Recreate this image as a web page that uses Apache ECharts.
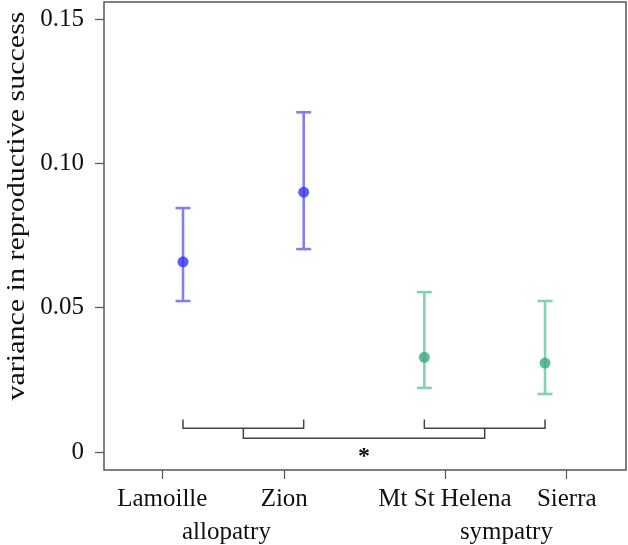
<!DOCTYPE html>
<html>
<head>
<meta charset="utf-8">
<script src="https://cdn.jsdelivr.net/npm/echarts@6/dist/echarts.min.js"></script>
<style>
html,body{margin:0;padding:0;background:#fff;}
#chart{width:628px;height:545px;}
</style>
</head>
<body>
<div id="chart"></div>
<script>
// ---- data ----
const sites = ['Lamoille', 'Zion', 'Mt St Helena', 'Sierra'];
const sitePos = [1, 2, 3, 4];
const siteGroup = [0, 0, 1, 1];
const means = [0.0659, 0.0900, 0.0328, 0.0308];
const upper = [0.0845, 0.1177, 0.0554, 0.0523];
const lower = [0.0523, 0.0703, 0.0222, 0.0201];
const siteTickPos = [0.828, 1.839, 3.171, 4.18];
const groups = ['allopatry', 'sympatry'];
const groupLabelPos = [1.36, 3.68];
const yTicks = [0, 0.05, 0.10, 0.15];
const yTickLabels = ['0', '0.05', '0.10', '0.15'];
const bracketTipY = 0.0113;
const bracketBarY = 0.0082;
const bracketJoinY = 0.0048;
const sigLabel = '*';
const sigLabelY = -0.0015;

// ---- styles ----
const pointColors = ['#3434f2', '#3aa97c'];
const barColors = ['#8080f2', '#86d0b3'];
const ink = '#444';
const fontFam = '"Liberation Serif", "DejaVu Serif", serif';

const chart = echarts.init(document.getElementById('chart'));

const errData = sitePos.map((x, i) => [x, lower[i], upper[i], siteGroup[i]]);
const ptData = sitePos.map((x, i) => ({ value: [x, means[i]], itemStyle: { color: pointColors[siteGroup[i]] } }));

// brackets from group membership
const groupIdx = [0, 1];
const bracketData = groupIdx.map(g => {
  const xs = sitePos.filter((_, i) => siteGroup[i] === g);
  return [Math.min(...xs), Math.max(...xs)];
});

function near(a, b) { return Math.abs(a - b) < 1e-6; }

const option = {
  animation: false,
  backgroundColor: '#fff',
  grid: { left: 104, right: 2, top: 2, bottom: 75, show: true, borderColor: '#555', borderWidth: 1.5, backgroundColor: 'transparent' },
  xAxis: [
    {
      type: 'value', min: 0.3453, max: 4.671, position: 'bottom',
      axisLine: { show: false, onZero: false },
      splitLine: { show: false },
      axisTick: { show: true, length: 9, inside: false, customValues: siteTickPos, lineStyle: { color: '#555', width: 1.2 } },
      axisLabel: {
        customValues: siteTickPos, margin: 17,
        fontFamily: fontFam, fontSize: 25, color: '#111',
        formatter: v => { const i = siteTickPos.findIndex(t => near(t, v)); return i >= 0 ? sites[i] : ''; }
      }
    },
    {
      type: 'value', min: 0.3453, max: 4.671, position: 'bottom',
      axisLine: { show: false, onZero: false }, axisTick: { show: false }, splitLine: { show: false },
      axisLabel: {
        customValues: groupLabelPos, margin: 50,
        fontFamily: fontFam, fontSize: 25, color: '#111',
        formatter: v => { const i = groupLabelPos.findIndex(t => near(t, v)); return i >= 0 ? groups[i] : ''; }
      }
    }
  ],
  yAxis: {
    type: 'value', min: -0.006235, max: 0.15589,
    axisLine: { show: false, onZero: false },
    splitLine: { show: false },
    axisTick: { show: true, length: 9, customValues: yTicks, lineStyle: { color: '#555', width: 1.2 } },
    axisLabel: {
      customValues: yTicks, margin: 20,
      fontFamily: fontFam, fontSize: 25, color: '#111',
      formatter: v => { const i = yTicks.findIndex(t => near(t, v)); return i >= 0 ? yTickLabels[i] : ''; }
    }
  },
  graphic: [{
    type: 'text', x: 17, y: 206, rotation: Math.PI / 2, scaleX: 1.2,
    style: { text: 'variance in reproductive success', fontFamily: fontFam, fontSize: 25, fill: '#111', align: 'center', verticalAlign: 'middle' }
  }],
  series: [
    {
      type: 'custom', xAxisIndex: 0,
      data: bracketData,
      renderItem: (params, api) => {
        const x0 = api.value(0), x1 = api.value(1);
        const a = api.coord([x0, bracketTipY]);
        const b = api.coord([x0, bracketBarY]);
        const c = api.coord([x1, bracketBarY]);
        const d = api.coord([x1, bracketTipY]);
        return { type: 'polyline', shape: { points: [a, b, c, d] }, style: { stroke: ink, lineWidth: 1.5, fill: null } };
      },
      silent: true, z: 1
    },
    {
      type: 'custom', xAxisIndex: 0,
      data: [[
        (bracketData[0][0] + bracketData[0][1]) / 2,
        (bracketData[1][0] + bracketData[1][1]) / 2
      ]],
      renderItem: (params, api) => {
        const m0 = api.value(0), m1 = api.value(1);
        const a = api.coord([m0, bracketBarY]);
        const b = api.coord([m0, bracketJoinY]);
        const c = api.coord([m1, bracketJoinY]);
        const d = api.coord([m1, bracketBarY]);
        const t = api.coord([(m0 + m1) / 2, sigLabelY]);
        return {
          type: 'group', children: [
            { type: 'polyline', shape: { points: [a, b, c, d] }, style: { stroke: ink, lineWidth: 1.5, fill: null } },
            { type: 'text', x: t[0], y: t[1], style: { text: sigLabel, fontFamily: fontFam, fontSize: 24, fontWeight: 'bold', fill: '#111', align: 'center', verticalAlign: 'middle' } }
          ]
        };
      },
      silent: true, z: 1
    },
    {
      type: 'custom', xAxisIndex: 0,
      data: errData,
      renderItem: (params, api) => {
        const x = api.value(0);
        const lo = api.coord([x, api.value(1)]);
        const hi = api.coord([x, api.value(2)]);
        const col = barColors[api.value(3)];
        const hw = 7.5;
        const st = { stroke: col, lineWidth: 2.6 };
        return {
          type: 'group', children: [
            { type: 'line', shape: { x1: lo[0], y1: lo[1], x2: hi[0], y2: hi[1] }, style: st },
            { type: 'line', shape: { x1: lo[0] - hw, y1: lo[1], x2: lo[0] + hw, y2: lo[1] }, style: st },
            { type: 'line', shape: { x1: hi[0] - hw, y1: hi[1], x2: hi[0] + hw, y2: hi[1] }, style: st }
          ]
        };
      },
      silent: true, z: 2
    },
    {
      type: 'scatter', xAxisIndex: 0,
      data: ptData,
      symbol: 'circle', symbolSize: 11,
      silent: true, z: 3
    }
  ]
};
chart.setOption(option);
</script>
</body>
</html>
